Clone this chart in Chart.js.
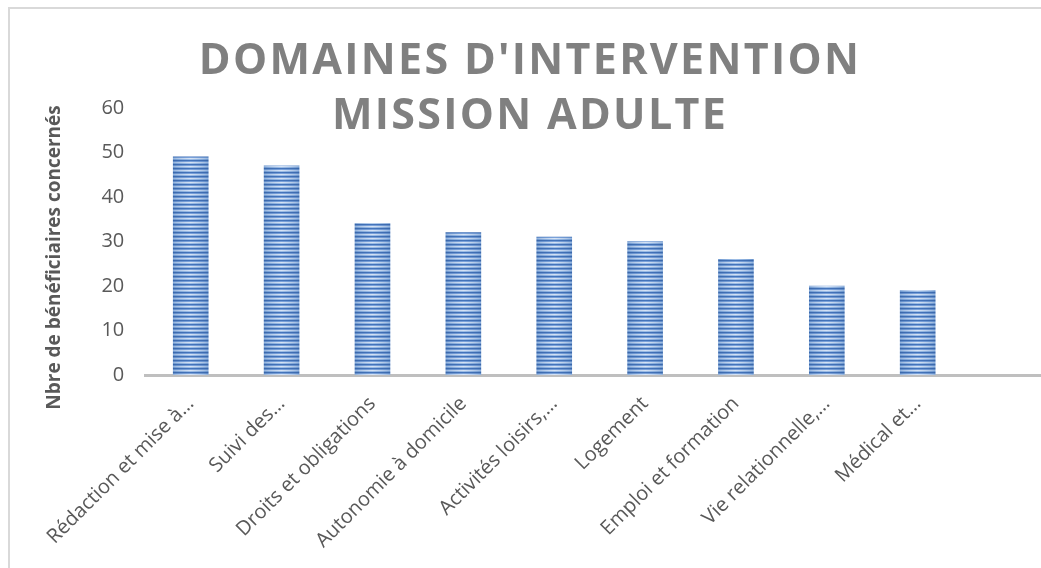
<!DOCTYPE html>
<html>
<head>
<meta charset="utf-8">
<script src="https://cdn.jsdelivr.net/npm/chart.js@4.4.0/dist/chart.umd.min.js"></script>
<style>
  html, body { margin: 0; padding: 0; background: #fff; overflow: hidden; width: 1041px; height: 568px; }
  #frame { position: absolute; left: 8px; top: 7px; width: 1100px; height: 600px;
           border-left: 2px solid #d9d9d9; border-top: 2px solid #d9d9d9; }
  #chart { position: absolute; left: 0; top: 0; }
  #title { position: absolute; left: 0; top: 30px; width: 1060px; text-align: center;
           font: bold 43px "Open Sans"; letter-spacing: 2.3px; line-height: 55px; color: #808080; }
</style>
</head>
<body>
<div id="frame"></div>
<canvas id="chart" width="1060" height="568"></canvas>
<div id="title">DOMAINES D'INTERVENTION<br>MISSION ADULTE</div>

<script>
// --- data ---
const categories = [
  "Rédaction et mise à…",
  "Suivi des…",
  "Droits et obligations",
  "Autonomie à domicile",
  "Activités loisirs,…",
  "Logement",
  "Emploi et formation",
  "Vie relationnelle,…",
  "Médical et…",
  ""
];
const beneficiaires = [49, 47, 34, 32, 31, 30, 26, 20, 19, null];
const yTicks = [0, 10, 20, 30, 40, 50, 60];
const yTitle = "Nbre de bénéficiaires concernés";

const BAR_W = 35;
const grey = "#595959";

// striped fill, lighter in the middle of the bar
function makeStripes(w) {
  const c = document.createElement("canvas");
  c.width = w;
  c.height = 4;
  const g = c.getContext("2d");
  const rows = [
    { edge: [58, 102, 168], mid: [68, 116, 188] },
    { edge: [92, 136, 196], mid: [122, 162, 218] },
    { edge: [138, 172, 218], mid: [214, 227, 245] },
    { edge: [100, 144, 202], mid: [158, 190, 230] }
  ];
  for (let x = 0; x < w; x++) {
    const t = Math.pow(1 - Math.abs(x + 0.5 - w / 2) / (w / 2), 0.6);
    rows.forEach((r, y) => {
      const col = r.edge.map((e, i) => Math.round(e + (r.mid[i] - e) * t));
      g.fillStyle = `rgb(${col[0]},${col[1]},${col[2]})`;
      g.fillRect(x, y, 1, 1);
    });
  }
  return c;
}
const stripeCanvas = makeStripes(BAR_W);

function barFill(context) {
  const chart = context.chart;
  const xs = chart.scales.x;
  if (!xs || !chart.chartArea) return "#5b8fd0";
  const cx = xs.getPixelForValue(context.dataIndex);
  const pat = chart.ctx.createPattern(stripeCanvas, "repeat");
  pat.setTransform(new DOMMatrix().translate(Math.round(cx - BAR_W / 2), 0));
  return pat;
}

// y axis title, a little below the middle of the axis like the original
const yTitlePlugin = {
  id: "yTitle",
  afterDraw(chart) {
    const s = chart.scales.y;
    const ctx = chart.ctx;
    ctx.save();
    ctx.translate(s.left + 55, (s.top + s.bottom) / 2 + 16);
    ctx.rotate(-Math.PI / 2);
    ctx.font = 'bold 19px "Open Sans"';
    ctx.fillStyle = grey;
    ctx.textAlign = "center";
    ctx.textBaseline = "middle";
    ctx.fillText(yTitle, 0, 0);
    ctx.restore();
  }
};

new Chart(document.getElementById("chart"), {
  type: "bar",
  data: {
    labels: categories,
    datasets: [{
      data: beneficiaires,
      backgroundColor: barFill,
      borderWidth: 0,
      barThickness: BAR_W
    }]
  },
  options: {
    responsive: false,
    animation: false,
    layout: { padding: { top: 108, right: 6, left: 0, bottom: 0 } },
    plugins: {
      legend: { display: false },
      tooltip: { enabled: false },
      title: { display: false }
    },
    scales: {
      x: {
        grid: { display: false, drawTicks: false },
        border: { display: true, color: "#bfbfbf", width: 3 },
        ticks: {
          autoSkip: false, maxRotation: 45, minRotation: 45, padding: 17,
          color: grey, font: { family: "Open Sans", size: 20 }
        },
        afterFit: s => { s.height = 568 - 375; }
      },
      y: {
        min: 0, max: 60,
        grid: { display: false, drawTicks: false },
        border: { display: false },
        ticks: { padding: 21, color: grey, font: { family: "Open Sans", size: 20 } },
        afterBuildTicks: s => { s.ticks = yTicks.map(v => ({ value: v })); },
        afterFit: s => { s.width = 145.3; }
      }
    }
  },
  plugins: [yTitlePlugin]
});
</script>
</body>
</html>
